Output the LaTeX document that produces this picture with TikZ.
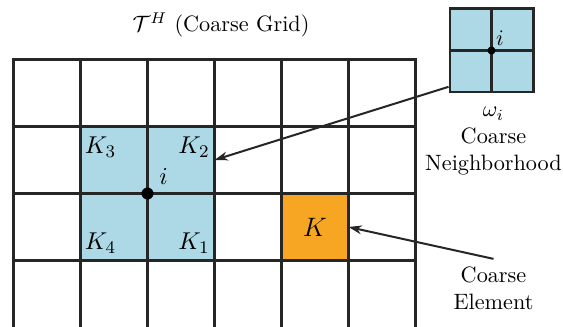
\documentclass[tikz,border=0pt]{standalone}
\usepackage{amsmath}
\usepackage{amssymb}
\usepackage{xcolor}
\usetikzlibrary{arrows.meta}
\definecolor{nbblue}{RGB}{173,216,230}
\definecolor{elorange}{RGB}{246,166,35}

\begin{document}
\begin{tikzpicture}[
  x=0.45pt, y=-0.45pt,
  grid/.style={line width=1.2pt, line cap=rect, color=black!85},
  cross/.style={line width=1.2pt, color=black!85},
  cell/.style={minimum size=30.15pt, inner sep=0pt, outer sep=0pt},
  dot/.style={circle, fill=black, inner sep=0pt, minimum size=5.4pt},
  klbl/.style={font=\fontsize{11}{13}\selectfont},
  arr/.style={-{Stealth[length=6pt,width=4pt]}, line width=0.9pt, color=black!85}
]
  \useasboundingbox (0,0) rectangle (563,326);

  % Title
  \node (title) at (221,25) {$\mathcal{T}^H$ (Coarse Grid)};

  % Neighborhood cells and coarse element
  \node[cell, fill=nbblue] (k3) at (114,160) {};
  \node[cell, fill=nbblue] (k2) at (181,160) {};
  \node[cell, fill=nbblue] (k4) at (114,227) {};
  \node[cell, fill=nbblue] (k1) at (181,227) {};
  \node[cell, fill=elorange, font=\fontsize{13}{15}\selectfont] (K) at (315,227) {$K$};

  % Grid lines
  \foreach \i in {0,...,6}
    \draw[grid] (13.5+67*\i,59.5) -- (13.5+67*\i,326);
  \foreach \j in {0,...,3}
    \draw[grid] (13.5,59.5+67*\j) -- (415.5,59.5+67*\j);

  % Labels around node i
  \node[klbl] (lk3) at (100.5,147) {$K_3$};
  \node[klbl] (lk2) at (194,147) {$K_2$};
  \node[klbl] (lk4) at (100.5,243.5) {$K_4$};
  \node[klbl] (lk1) at (194,243.5) {$K_1$};
  \node[dot] (xi) at (147.5,193.5) {};
  \node[klbl] (li) at (163.5,176) {$i$};

  % Small neighborhood
  \node[grid, draw, fill=nbblue, minimum size=37.5pt, inner sep=0pt] (omega) at (491.5,50.5) {};
  \draw[cross] (omega.north) -- (omega.south);
  \draw[cross] (omega.west) -- (omega.east);
  \node[dot, minimum size=3.6pt] (oi) at (omega.center) {};
  \node (loi) at (500,38) {$i$};
  \node[align=center] (nbh) at (493.5,141) {$\omega_i$\\Coarse\\Neighborhood};

  % Element label
  \node[align=center] (elem) at (493.5,288) {Coarse\\Element};

  % Arrows
  \draw[arr] ([yshift=3pt]omega.south west) -- (k2.east);
  \draw[arr] (elem.north) -- (K.east);
\end{tikzpicture}
\end{document}
